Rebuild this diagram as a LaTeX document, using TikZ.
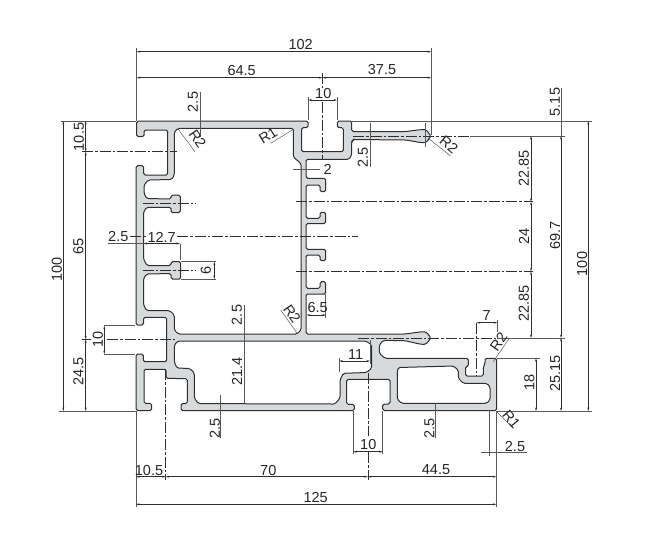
\documentclass[tikz,border=0pt]{standalone}
\usepackage{fontspec}
\usetikzlibrary{arrows.meta}
\setmainfont{Liberation Sans}
\definecolor{metal}{HTML}{D7DADC}
\definecolor{ink}{HTML}{2E2E2E}
\tikzset{
  profile/.style={draw=ink,fill=metal,line width=1pt,even odd rule,rounded corners=1.6pt},
  dim/.style={{Stealth[length=3.5pt,width=2pt]}-{Stealth[length=3.5pt,width=2pt]},draw=ink,line width=.6pt},
  ext/.style={draw=ink!80,line width=.5pt},
  axis/.style={draw=ink,line width=.6pt,dash pattern=on 11pt off 2pt on 2.5pt off 2pt},
  lab/.style={text=black!85,inner sep=0pt,font=\fontsize{14.5}{16}\selectfont},
  vlab/.style={lab,rotate=90}
}
\begin{document}
\begin{tikzpicture}[x=1pt,y=-1pt]
    \useasboundingbox (0,0) rectangle (650,550);
    % section with its three chambers
    \path[profile]
      (136.7,121) -- (308,121) -- (308,127.7) -- (301.5,127.7) -- (301.5,151.7) -- (343.3,151.7)
      -- (343.3,127.7) -- (337.3,127.7) -- (337.3,121) -- (351.7,121) -- (351.7,131.5) -- (406,131.5)
      -- (421,129.6) -- (426,129.6) -- (431,136) -- (426,142.6) -- (421,142.6) -- (406,140)
      -- (353.5,139.5) -- (351.7,141.5) -- (351.7,155) -- (349,159.3) -- (306,159.3)
      -- (306,178.3) -- (325.7,178.3) -- (325.7,191.7) -- (320,191.7) -- (320,185) -- (306,185)
      -- (306,218.3) -- (320,218.3) -- (320,212.3) -- (325.7,212.3) -- (325.7,223.5) -- (306,223.5)
      -- (306,249.3) -- (325.7,249.3) -- (325.7,260.7) -- (320,260.7) -- (320,255) -- (306,255)
      -- (306,288.3) -- (320,288.3) -- (320,281.7) -- (325.7,281.7) -- (325.7,294) -- (306,294)
      -- (306,334) -- (405,334) -- (421,331.8) -- (426,331.8) -- (431,337.7) -- (426,344.3) -- (421,344.3)
      -- (405,340.7) -- (383.3,340.3) -- (379.3,345) -- (379.3,353.3) -- (385,358.3) -- (468.3,358.3)
      -- (468.3,366.5) -- (465.5,366.5) -- (465.5,376) -- (483.3,376) -- (483.3,366.7) -- (485,364)
      -- (485,358.3) -- (496.7,358.3) -- (496.7,410.5) -- (382.7,410.5) -- (382.7,404) -- (390,404)
      -- (390,379.3) -- (346.7,379.3) -- (346.7,404.3) -- (354.3,404.3) -- (354.3,410.5) -- (181,410.5)
      -- (181,403.5) -- (187.3,403.5) -- (187.3,378.7) -- (166,378.3) -- (166,369.3) -- (144,369.3)
      -- (144,403.3) -- (151.7,403.3) -- (151.7,410.5) -- (136,410.5) -- (136,354) -- (143.3,354)
      -- (143.3,361.7) -- (166.7,361.7) -- (166.7,317.3) -- (143.5,317.3) -- (143.5,325) -- (136,325)
      -- (136,165.7) -- (143.7,165.7) -- (143.7,175) -- (167.7,175) -- (167.7,130) -- (144,130)
      -- (144,136.7) -- (136.7,136.7) -- cycle
      (178,128.3) -- (293.3,128.3) -- (293.3,157) -- (301,163.5) -- (301,330) -- (297,334) -- (178.3,334)
      -- (174.3,330) -- (174.3,315) -- (170,310.7) -- (146.7,310.7) -- (143.5,305) -- (143.5,278.5)
      -- (146.7,274) -- (171,273.5) -- (171,279) -- (180.7,279) -- (180.7,261.7) -- (171,261.7)
      -- (171,265.5) -- (147,265.5) -- (143.5,259) -- (143.5,212) -- (146.7,207.3) -- (171,207.3)
      -- (171,212.7) -- (180.3,212.7) -- (180.3,195) -- (171,195) -- (171,199) -- (146.7,198.5)
      -- (144,193.3) -- (144,185) -- (148.3,180) -- (171.7,179.5) -- (174.3,175) -- (174.3,132) -- cycle
      (178,341) -- (366,341) -- (371.7,345) -- (371.7,368) -- (366.7,372.5) -- (343.3,373.3)
      -- (340,380) -- (340,398) -- (335,404) -- (198.3,403.6) -- (194.3,398) -- (194.3,373)
      -- (190,368.5) -- (177,368) -- (174.3,362) -- (174.3,345) -- cycle
      (398.3,367.5) -- (453.3,366) -- (458.3,370) -- (458.3,378.3) -- (463.3,383.3) -- (486.7,383.3)
      -- (490,386.7) -- (490,400) -- (486.7,403.3) -- (401.7,403.3) -- (397.3,399.3) -- (397.3,371.7) -- cycle;
    % axes
    \draw[axis] (82,151.7) -- (176.7,151.7);
    \draw[axis] (82,339.3) -- (91,339.3);
    \draw[axis] (107,339.3) -- (176.7,339.3);
    \draw[axis] (142.7,203.3) -- (196,203.3);
    \draw[axis] (142.7,270) -- (196,270);
    \draw[axis] (130,236.7) -- (146,236.7);
    \draw[axis] (177,236.7) -- (358,236.7);
    \draw[axis] (296,201.7) -- (533,201.7);
    \draw[axis] (296,271.5) -- (533,271.5);
    \draw[axis] (353,136) -- (470,136);
    \draw[axis] (358,338) -- (497,338);
    \draw[axis] (322.5,73) -- (322.5,88);
    \draw[axis] (322.5,102) -- (322.5,160);
    \draw[axis] (367.8,373) -- (367.8,436);
    \draw[axis] (367.8,452) -- (367.8,480);
    \draw[axis] (165.7,369) -- (165.7,480);
    \draw[axis] (476.7,322.7) -- (476.7,376);
    % extension lines
    \draw[ext] (136.7,48) -- (136.7,121);
    \draw[ext] (431,48) -- (431,135);
    \draw[ext] (308.3,97) -- (308.3,120);
    \draw[ext] (337,97) -- (337,120);
    \draw[ext] (61,121) -- (136,121);
    \draw[ext] (59,411) -- (136,411);
    \draw[ext] (352,121) -- (592,121);
    \draw[ext] (470,136) -- (565,136);
    \draw[ext] (497,338) -- (565,338);
    \draw[ext] (497,358.3) -- (540,358.3);
    \draw[ext] (497,411) -- (592,411);
    \draw[ext] (104,325.7) -- (135,325.7);
    \draw[ext] (104,354) -- (135,354);
    \draw[ext] (180,243.5) -- (180,260);
    \draw[ext] (181,261.7) -- (216,261.7);
    \draw[ext] (181,279) -- (216,279);
    \draw[ext] (325.7,294) -- (325.7,318);
    \draw[ext] (339.3,358) -- (339.3,372);
    \draw[ext] (370,340) -- (370,364);
    \draw[ext] (497.3,320) -- (497.3,332);
    \draw[ext] (353.3,411) -- (353.3,454);
    \draw[ext] (382.7,411) -- (382.7,454);
    \draw[ext] (136,411) -- (136,507);
    \draw[ext] (496.3,411) -- (496.3,507);
    \draw[ext] (489,410) -- (489,456);
    \draw[ext] (425,123.3) -- (425,146.7);
    % dimensions, top
    \draw[dim] (136.7,51.7) -- (431,51.7);
    \draw[dim] (136.7,77.7) -- (322.5,77.7);
    \draw[dim] (322.5,77.7) -- (431,77.7);
    \draw[dim] (308.3,100) -- (337,100);
    \draw[ext] (200,92) -- (200,137);
    \draw[ext] (370,123.3) -- (370,167.3);
    \draw[ext] (293,169) -- (320,169);
    % dimensions, left
    \draw[dim] (63.3,121) -- (63.3,411);
    \draw[dim] (85.7,121) -- (85.7,151.7);
    \draw[dim] (85.7,151.7) -- (85.7,339.3);
    \draw[dim] (85.7,339.3) -- (85.7,411);
    \draw[dim] (104.3,325.7) -- (104.3,354);
    \draw[ext] (108,243.5) -- (143.5,243.5);
    \draw[dim] (143.5,243.5) -- (180,243.5);
    \draw[dim] (214.3,261.7) -- (214.3,279);
    % dimensions, right
    \draw[ext] (561,88) -- (561,136);
    \draw[dim] (561,136) -- (561,338);
    \draw[dim] (561,338) -- (561,411);
    \draw[dim] (588.3,121) -- (588.3,411);
    \draw[dim] (531,136) -- (531,201.7);
    \draw[dim] (531,201.7) -- (531,271.5);
    \draw[dim] (531,271.5) -- (531,338);
    \draw[dim] (536,358.3) -- (536,411);
    % dimensions, inside and bottom
    \draw[dim] (476.7,322.7) -- (497.3,322.7);
    \draw[dim] (339.3,361) -- (370,361);
    \draw[dim] (306.5,315) -- (325.7,315);
    \draw[ext] (244,305) -- (244,403.3);
    \draw[ext] (220.7,395) -- (220.7,438.3);
    \draw[ext] (435.7,403) -- (435.7,438.3);
    \draw[dim] (353.3,451.7) -- (382.7,451.7);
    \draw[dim] (136,476.7) -- (165.7,476.7);
    \draw[dim] (165.7,476.7) -- (367.8,476.7);
    \draw[dim] (367.8,476.7) -- (496.3,476.7);
    \draw[dim] (136,504.3) -- (496.3,504.3);
    \draw[ext] (481,452.7) -- (527,452.7);
    % radius leaders
    \draw[ext] (178.3,129.3) -- (195,151.7);
    \draw[ext] (293.3,129.3) -- (270.7,143.3);
    \draw[ext] (428.3,138.3) -- (450.7,156);
    \draw[ext] (296.7,332.7) -- (280.7,310);
    \draw[ext] (493.3,361.7) -- (509.3,338.3);
    \draw[ext] (496.7,411.7) -- (513.3,428.3);
    % labels
    \node[lab] (top102) at (300.7,45) {102};
    \node[lab] (top645) at (241.7,70.5) {64.5};
    \node[lab] (top375) at (382,70) {37.5};
    \node[lab] (top10) at (323.3,94) {10};
    \node[vlab] (top25) at (193,102) {2.5};
    \node[vlab] (arm25) at (363,157.3) {2.5};
    \node[lab] (web2) at (327.7,169) {2};
    \node[lab,rotate=-55] (radtl) at (197.5,139) {R2};
    \node[lab,rotate=32] (radtr) at (268,135.5) {R1};
    \node[lab,rotate=-40] (radbulb) at (449,144.5) {R2};
    \node[lab,rotate=-55] (radbar) at (292,314) {R2};
    \node[lab,rotate=55] (radslot) at (498.5,342) {R2};
    \node[lab,rotate=-50] (radcorner) at (511.5,419) {R1};
    \node[vlab] (left100) at (57,269.3) {100};
    \node[vlab] (left105) at (79,137) {10.5};
    \node[vlab] (left65) at (78.3,246.7) {65};
    \node[vlab] (left245) at (78.3,371.7) {24.5};
    \node[vlab] (left10) at (98,339.3) {10};
    \node[lab] (wall25) at (118.3,236.7) {2.5};
    \node[lab] (t127) at (161.7,237) {12.7};
    \node[vlab] (t6) at (206,270) {6};
    \node[vlab] (bar25) at (237,315) {2.5};
    \node[vlab] (ch214) at (237,371.7) {21.4};
    \node[lab] (fin65) at (317.7,307) {6.5};
    \node[lab] (web11) at (355.7,354.5) {11};
    \node[lab] (slot7) at (486.7,315.5) {7};
    \node[vlab] (right515) at (555,102) {5.15};
    \node[vlab] (right697) at (555,235.7) {69.7};
    \node[vlab] (right2515) at (555,373.3) {25.15};
    \node[vlab] (right100) at (582,264) {100};
    \node[vlab] (rightb) at (524,168.3) {22.85};
    \node[vlab] (right24) at (524,236.7) {24};
    \node[vlab] (rightc) at (524,303.3) {22.85};
    \node[vlab] (right18) at (529.5,382.7) {18};
    \node[vlab] (botl25) at (215,428.3) {2.5};
    \node[vlab] (botr25) at (429.3,428.3) {2.5};
    \node[lab] (bot10) at (368.3,444) {10};
    \node[lab] (bot25) at (515,446.5) {2.5};
    \node[lab] (bot105) at (149,470) {10.5};
    \node[lab] (bot70) at (268.3,470) {70};
    \node[lab] (bot445) at (436,470) {44.5};
    \node[lab] (bot125) at (315.7,497.5) {125};
  \end{tikzpicture}
\end{document}
